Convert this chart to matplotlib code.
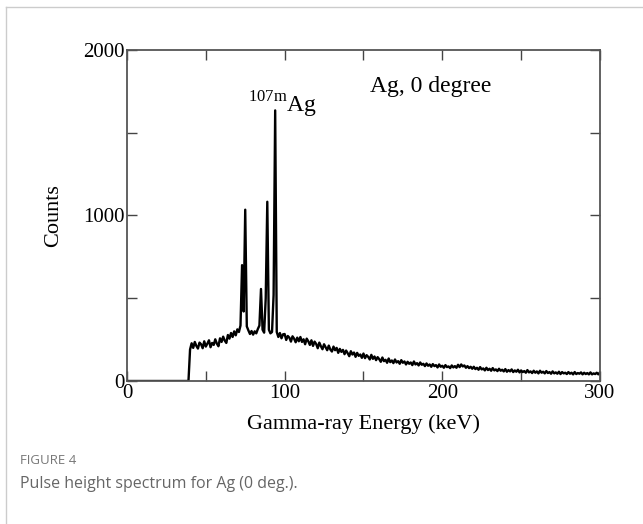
import matplotlib
matplotlib.use('Agg')
import matplotlib.pyplot as plt
import numpy as np
from matplotlib.lines import Line2D

# energy channels, 1 keV wide, 0..300 keV
energy = np.arange(0, 301)

# counts per channel
counts_0_39 = [0] * 40
counts_40_99 = [190, 228, 200, 236, 212, 196, 232, 222, 198, 240,
                208, 226, 246, 204, 230, 218, 252, 226, 210, 258,
                236, 268, 244, 230, 278, 256, 290, 266, 300, 276,
                312, 296, 335, 700, 420, 1035, 330, 306, 284, 302,
                280, 300, 288, 314, 335, 556, 310, 292, 500, 1083,
                310, 288, 296, 520, 1635, 296, 266, 290, 258, 282]
counts_100_159 = [284, 248, 272, 262, 238, 270, 256, 234, 262, 240,
                  266, 236, 252, 222, 256, 240, 218, 246, 212, 238,
                  224, 198, 232, 210, 192, 222, 204, 186, 214, 190,
                  178, 208, 186, 200, 170, 194, 176, 188, 162, 184,
                  168, 150, 180, 160, 172, 146, 170, 152, 160, 140,
                  166, 138, 156, 146, 130, 158, 134, 148, 126, 144]
counts_160_219 = [132, 116, 142, 120, 128, 110, 136, 114, 124, 108,
                  130, 112, 120, 104, 126, 110, 118, 100, 116, 104,
                  112, 96, 118, 100, 108, 94, 112, 98, 104, 90,
                  106, 92, 100, 86, 102, 90, 96, 82, 100, 86,
                  92, 80, 96, 84, 88, 78, 94, 82, 90, 80,
                  98, 84, 100, 88, 94, 80, 90, 78, 86, 74]
counts_220_300 = [86, 72, 80, 68, 84, 70, 76, 64, 80, 66,
                  74, 62, 78, 64, 70, 60, 74, 62, 68, 58,
                  72, 56, 66, 58, 70, 54, 64, 56, 68, 52,
                  64, 54, 60, 50, 66, 52, 58, 48, 62, 50,
                  58, 46, 62, 50, 56, 46, 60, 48, 54, 44,
                  58, 46, 52, 44, 56, 42, 54, 46, 50, 42,
                  54, 44, 50, 40, 54, 42, 48, 44, 52, 40,
                  50, 42, 48, 40, 52, 40, 46, 42, 50, 40,
                  52]
counts = np.array(counts_0_39 + counts_40_99 + counts_100_159
                  + counts_160_219 + counts_220_300)

serif = 'Liberation Serif'

fig = plt.figure(figsize=(6.43, 5.24), dpi=100)
ax = fig.add_axes([0.1975, 0.2729, 0.7355, 0.6317])

ax.plot(energy, counts, color='black', lw=1.7)

ax.set_xlim(0, 300)
ax.set_ylim(0, 2000)
ax.set_xticks([0, 100, 200, 300])
ax.set_xticks([50, 150, 250], minor=True)
ax.set_yticks([0, 1000, 2000])
ax.set_yticks([500, 1500], minor=True)
ax.tick_params(which='both', direction='in', top=True, right=True,
               labelsize=15, pad=2, color='#444444')
ax.tick_params(which='major', length=7, width=1)
ax.tick_params(which='minor', length=7, width=1)
for lbl in ax.get_xticklabels() + ax.get_yticklabels():
    lbl.set_family(serif)
for sp in ax.spines.values():
    sp.set_color('#555555')
    sp.set_linewidth(1.3)

ax.set_xlabel('Gamma-ray Energy (keV)', fontsize=16, family=serif, labelpad=8)
ax.set_ylabel('Counts', fontsize=16, family=serif, labelpad=14)

ax.text(77, 1625, r'$^{\mathregular{107m}}$Ag', fontsize=17, family=serif)
ax.text(154, 1745, 'Ag, 0 degree', fontsize=17, family=serif)

# page frame and caption
fig.add_artist(Line2D([6 / 643, 6 / 643], [0, 1 - 7 / 524], color='#cccccc', lw=1))
fig.add_artist(Line2D([6 / 643, 1], [1 - 7 / 524, 1 - 7 / 524], color='#cccccc', lw=1))
fig.text(20 / 643, 1 - 461 / 524, 'FIGURE 4', fontsize=9.5, color='#777777',
         family='Open Sans', va='center')
fig.text(20 / 643, 1 - 484 / 524, 'Pulse height spectrum for Ag (0 deg.).',
         fontsize=11.5, color='#666666', family='Open Sans', va='center')

fig.savefig('out.png', dpi=100)
